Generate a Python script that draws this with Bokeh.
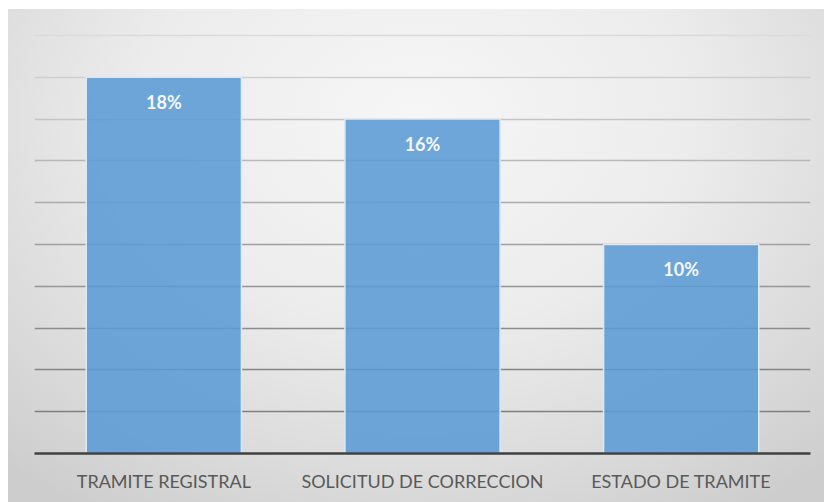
from bokeh.plotting import figure
from bokeh.models import ColumnDataSource, FactorRange, Range1d, Grid, FixedTicker
from bokeh.embed import file_html
from bokeh.resources import INLINE
from bokeh.core.properties import value

categories = ["TRAMITE REGISTRAL", "SOLICITUD DE CORRECCION", "ESTADO DE TRAMITE"]
percent_values = [18, 16, 10]
bar_labels = ["18%", "16%", "10%"]
grid_ticks = [2, 4, 6, 8, 10, 12, 14, 16, 18, 20]
grid_colors = ["#7f7f7f", "#858585", "#8c8c8c", "#959595", "#a0a0a0",
               "#ababab", "#b8b8b8", "#c4c4c4", "#cfcfcf", "#dadada"]

src = ColumnDataSource(dict(cat=categories, val=percent_values, lab=bar_labels))

p = figure(width=816, height=493, x_range=FactorRange(*categories, range_padding=0),
           y_range=Range1d(0, 20.62), output_backend="svg", toolbar_location=None,
           min_border_left=26, min_border_right=14, min_border_top=13, min_border_bottom=49)
p.margin = (9, 0, 0, 8)
p.styles = {"background": "radial-gradient(ellipse 75% 95% at 50% 22%, #f6f6f6 0%, #ececec 45%, #d9d9d9 80%, #cdcdcd 100%)"}
p.background_fill_alpha = 0
p.border_fill_alpha = 0
p.outline_line_color = None

p.xgrid.visible = False
p.ygrid.visible = False
for t, c in zip(grid_ticks, grid_colors):
    g = Grid(dimension=1, ticker=FixedTicker(ticks=[t]), grid_line_color=c, grid_line_width=1.6)
    p.add_layout(g)

p.vbar(x="cat", top="val", width=0.6, source=src, fill_color="#5b9bd5", fill_alpha=0.88,
       line_color="#dce9f6", line_width=1.5)

p.text(x="cat", y="val", text="lab", source=src, y_offset=25, text_align="center",
       text_baseline="middle", text_color="#f4f7fb", text_font=value("Lato"),
       text_font_style="bold", text_font_size="18px")

p.yaxis.visible = False
ax = p.xaxis[0]
ax.axis_line_color = "#404040"
ax.axis_line_width = 2.5
ax.major_tick_line_color = None
ax.minor_tick_line_color = None
ax.major_label_text_font = "Lato"
ax.major_label_text_font_size = "18px"
ax.major_label_text_color = "#595959"
ax.major_label_standoff = 10

open("out.html", "w").write(file_html(p, INLINE))
